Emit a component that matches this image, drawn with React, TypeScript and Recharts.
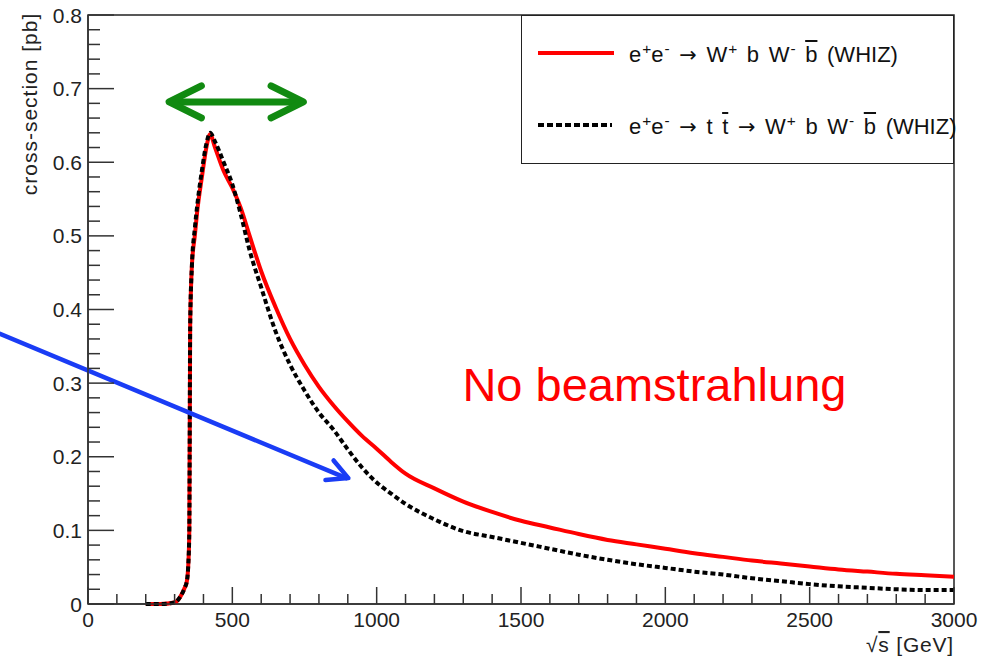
import React from "react";
import {
  LineChart,
  Line,
  XAxis,
  YAxis,
  Legend,
  ReferenceArea,
  ReferenceLine,
  ReferenceDot,
} from "recharts";

// sqrt(s) in GeV
const energy = [
  200, 250, 300, 320, 335, 342, 347, 351, 354, 360, 370, 378, 395, 410, 423, 440, 470, 500, 530, 560,
  600, 650, 700, 750, 800, 850, 900, 950, 1000, 1050, 1100, 1200, 1300, 1400, 1500, 1600, 1700, 1800,
  1900, 2000, 2100, 2200, 2300, 2400, 2500, 2600, 2700, 2800, 2900, 3000,
];
// e+e- -> W+ b W- bbar (WHIZ), pb
const wbwb = [
  0, 0, 0.002, 0.01, 0.022, 0.03, 0.05, 0.1, 0.38, 0.46, 0.5, 0.532, 0.581, 0.62, 0.638, 0.62, 0.588,
  0.565, 0.537, 0.5, 0.452, 0.403, 0.36, 0.325, 0.295, 0.27, 0.248, 0.228, 0.211, 0.193, 0.177, 0.157,
  0.139, 0.125, 0.113, 0.104, 0.095, 0.087, 0.081, 0.075, 0.069, 0.064, 0.059, 0.055, 0.051, 0.047,
  0.044, 0.041, 0.039, 0.037,
];
// e+e- -> t tbar -> W+ b W- bbar (WHIZ), pb
const ttbar = [
  0, 0, 0.002, 0.01, 0.022, 0.03, 0.05, 0.1, 0.38, 0.46, 0.51, 0.54, 0.59, 0.625, 0.64, 0.628, 0.6,
  0.57, 0.528, 0.48, 0.43, 0.37, 0.325, 0.29, 0.26, 0.237, 0.21, 0.185, 0.165, 0.15, 0.136, 0.115,
  0.099, 0.091, 0.083, 0.075, 0.067, 0.06, 0.054, 0.049, 0.044, 0.04, 0.035, 0.031, 0.027, 0.024,
  0.022, 0.02, 0.019, 0.019,
];

const xTicks = [
  0, 100, 200, 300, 400, 500, 600, 700, 800, 900, 1000, 1100, 1200, 1300, 1400, 1500, 1600, 1700,
  1800, 1900, 2000, 2100, 2200, 2300, 2400, 2500, 2600, 2700, 2800, 2900, 3000,
];
const xTickLabels = [0, 500, 1000, 1500, 2000, 2500, 3000];
const yTicks = [
  0, 0.02, 0.04, 0.06, 0.08, 0.1, 0.12, 0.14, 0.16, 0.18, 0.2, 0.22, 0.24, 0.26, 0.28, 0.3, 0.32,
  0.34, 0.36, 0.38, 0.4, 0.42, 0.44, 0.46, 0.48, 0.5, 0.52, 0.54, 0.56, 0.58, 0.6, 0.62, 0.64, 0.66,
  0.68, 0.7, 0.72, 0.74, 0.76, 0.78, 0.8,
];
const yTickLabels = [0, 0.1, 0.2, 0.3, 0.4, 0.5, 0.6, 0.7, 0.8];

// annotation arrows, in data units
const rangeArrow = [
  { x: 281, y: 0.682 },
  { x: 746, y: 0.682 },
];
const pointerArrow = [
  { x: -305, y: 0.367 },
  { x: 902, y: 0.171 },
];
const noteText = "No beamstrahlung";
const notePos = { x: 1297, y: 0.276 };

const data = energy.map((e, i) => ({ e, wbwb: wbwb[i], ttbar: ttbar[i] }));

const FONT = '"Liberation Sans", Arial, Helvetica, sans-serif';
const AXIS = "#333";

function XTick(props: any) {
  const { x, y, payload } = props;
  const v = payload.value as number;
  const major = xTickLabels.includes(v);
  return (
    <g>
      <line x1={x} x2={x} y1={y} y2={y - (major ? 17 : 10)} stroke={AXIS} strokeWidth={1.5} />
      {major && (
        <text x={x} y={y + 23} textAnchor="middle" fontSize={21} fill="#222" fontFamily={FONT}>
          {v}
        </text>
      )}
    </g>
  );
}

function YTick(props: any) {
  const { x, y, payload } = props;
  const v = payload.value as number;
  const major = yTickLabels.includes(v);
  return (
    <g>
      <line x1={x} x2={x + (major ? 26 : 12)} y1={y} y2={y} stroke={AXIS} strokeWidth={1.5} />
      {major && (
        <text x={x - 6} y={y} dy="0.36em" textAnchor="end" fontSize={21} fill="#222" fontFamily={FONT}>
          {v === 0 ? "0" : v.toFixed(1)}
        </text>
      )}
    </g>
  );
}

function head(tx: number, ty: number, ang: number, len: number, spread: number) {
  const a1 = ang + Math.PI - spread;
  const a2 = ang + Math.PI + spread;
  return `M${tx + len * Math.cos(a1)},${ty + len * Math.sin(a1)} L${tx},${ty} L${tx + len * Math.cos(a2)},${ty + len * Math.sin(a2)}`;
}

function DoubleArrow(props: any) {
  const { x1, y1, x2, y2 } = props;
  const ang = Math.atan2(y2 - y1, x2 - x1);
  return (
    <g fill="none" stroke="#118a11" strokeWidth={7} strokeLinecap="round" strokeLinejoin="round">
      <line x1={x1 + 4} y1={y1} x2={x2 - 4} y2={y2} />
      <path d={head(x2, y2, ang, 36, 0.46)} />
      <path d={head(x1, y1, ang + Math.PI, 36, 0.46)} />
    </g>
  );
}

function PointerArrow(props: any) {
  const { x1, y1, x2, y2 } = props;
  const ang = Math.atan2(y2 - y1, x2 - x1);
  return (
    <g fill="none" stroke="#1a3cf5" strokeWidth={4.5} strokeLinecap="round" strokeLinejoin="round">
      <line x1={x1} y1={y1} x2={x2 - 2} y2={y2} />
      <path d={head(x2, y2, ang, 23, 0.48)} />
    </g>
  );
}

function NoteText(props: any) {
  const { cx, cy } = props;
  return (
    <text x={cx} y={cy} fontSize={47} fill="#ff0000" fontFamily={FONT}>
      {noteText}
    </text>
  );
}

const sup = (s: string) => (
  <span style={{ fontSize: "0.7em", position: "relative", top: "-0.5em", marginLeft: 1 }}>{s}</span>
);
const bar = (s: string) => <span style={{ textDecoration: "overline" }}>{s}</span>;
const arrow = <span style={{ fontFamily: '"DejaVu Sans", sans-serif', fontSize: "0.95em" }}>→</span>;

function LegendBox() {
  const row: React.CSSProperties = {
    position: "absolute",
    left: 107,
    fontSize: 22,
    lineHeight: "24px",
    wordSpacing: 3.5,
    whiteSpace: "nowrap",
    color: "#111",
    fontFamily: FONT,
  };
  return (
    <div
      style={{
        position: "relative",
        width: 433,
        height: 149,
        border: "1.5px solid #222",
        boxSizing: "border-box",
        background: "#fff",
      }}
    >
      <svg width={433} height={149} style={{ position: "absolute", left: 0, top: 0 }}>
        <line x1={16} x2={92} y1={37} y2={37} stroke="#ff0000" strokeWidth={4} />
        <line x1={16} x2={90} y1={109} y2={109} stroke="#000" strokeWidth={4} strokeDasharray="6 3" />
      </svg>
      <div style={{ ...row, top: 27 }}>
        e{sup("+")}e{sup("-")} {arrow} W{sup("+")} b W{sup("-")} {bar("b")} (WHIZ)
      </div>
      <div style={{ ...row, top: 99 }}>
        e{sup("+")}e{sup("-")} {arrow} t {bar("t")} {arrow} W{sup("+")} b W{sup("-")} {bar("b")} (WHIZ)
      </div>
    </div>
  );
}

function XTitle(props: any) {
  const vb = props.viewBox || { x: 88, y: 604, width: 866, height: 54 };
  return (
    <text
      x={vb.x + vb.width}
      y={vb.y + 48}
      textAnchor="end"
      fontSize={21}
      letterSpacing={0.8}
      fill="#222"
      fontFamily={FONT}
    >
      √<tspan textDecoration="overline">s</tspan> [GeV]
    </text>
  );
}

function YTitle() {
  return (
    <text
      x={37}
      y={104}
      transform="rotate(-90, 37, 104)"
      textAnchor="middle"
      fontSize={21}
      letterSpacing={1}
      fill="#222"
      fontFamily={FONT}
    >
      cross-section [pb]
    </text>
  );
}

export default function App() {
  return (
    <div style={{ position: "absolute", left: 0, top: 0, width: 985, height: 658, background: "#fff", fontFamily: FONT }}>
      <LineChart width={985} height={658} data={data} margin={{ top: 15, right: 31, left: 0, bottom: 0 }}>
        <XAxis
          dataKey="e"
          type="number"
          domain={[0, 3000]}
          ticks={xTicks}
          interval={0}
          tick={<XTick />}
          tickLine={false}
          tickSize={0}
          tickMargin={0}
          height={54}
          axisLine={{ stroke: AXIS, strokeWidth: 1.5 }}
          label={{ content: (p: any) => <XTitle {...p} /> }}
        />
        <YAxis
          type="number"
          domain={[0, 0.8]}
          ticks={yTicks}
          interval={0}
          tick={<YTick />}
          tickLine={false}
          tickSize={0}
          tickMargin={0}
          width={88}
          axisLine={{ stroke: AXIS, strokeWidth: 1.5 }}
          label={{ content: () => <YTitle /> }}
        />
        <ReferenceArea x1={0} x2={3000} y1={0} y2={0.8} fill="none" stroke="#222" strokeWidth={1.5} ifOverflow="visible" />
        <Line
          type="monotone"
          dataKey="wbwb"
          stroke="#ff0000"
          strokeWidth={4}
          dot={false}
          isAnimationActive={false}
        />
        <Line
          type="monotone"
          dataKey="ttbar"
          stroke="#000"
          strokeWidth={4}
          strokeDasharray="5 3"
          dot={false}
          isAnimationActive={false}
        />
        <ReferenceLine segment={rangeArrow} ifOverflow="visible" shape={(p: any) => <DoubleArrow {...p} />} />
        <ReferenceLine segment={pointerArrow} ifOverflow="visible" shape={(p: any) => <PointerArrow {...p} />} />
        <ReferenceDot x={notePos.x} y={notePos.y} r={0} ifOverflow="visible" shape={(p: any) => <NoteText {...p} />} />
        <Legend
          layout="horizontal"
          verticalAlign="middle"
          align="center"
          content={() => <LegendBox />}
          wrapperStyle={{ position: "absolute", left: 521, top: 15, width: 433, height: 149 }}
        />
      </LineChart>
    </div>
  );
}
